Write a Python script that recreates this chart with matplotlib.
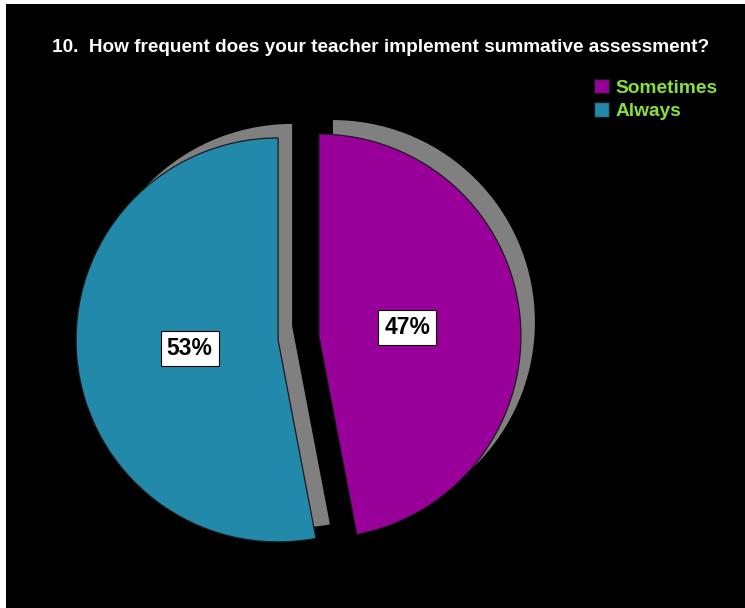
import matplotlib

matplotlib.use("Agg")
import matplotlib.pyplot as plt  # noqa: E402
from matplotlib.patches import Rectangle  # noqa: E402

plt.rcParams["font.family"] = ["Liberation Sans", "DejaVu Sans"]

title = "10.  How frequent does your teacher implement summative assessment?"
labels = ["Sometimes", "Always"]
shares = [47, 53]
colors = ["#990099", "#2389AB"]
shadow_color = "#808080"
legend_text_color = "#88E03A"

W, H = 745, 608
fig = plt.figure(figsize=(W / 100, H / 100), dpi=100)
fig.patch.set_facecolor("white")
# black panel leaves a thin white margin on the left and top
fig.patches.append(Rectangle((6 / W, 0), 1 - 6 / W, 1 - 4 / H,
                             transform=fig.transFigure, facecolor="black",
                             edgecolor="none", zorder=-1))

ax = fig.add_axes([0, 0, 1, 1])
ax.set_facecolor("none")

# axes units are pixels, so explode is a pixel offset here
cx, cy, r = 298.5, H - 338, 202
explode = [20.5, 20.5]
shadow_dx, shadow_dy = 14, 14

# flat grey copy offset up and to the right acts as the 3d shadow
ax.pie(shares, colors=[shadow_color] * 2, startangle=90, counterclock=False,
       explode=explode, radius=r, center=(cx + shadow_dx, cy + shadow_dy),
       wedgeprops=dict(linewidth=0))

wedges, _, autotexts = ax.pie(
    shares, colors=colors, startangle=90, counterclock=False,
    explode=explode, radius=r, center=(cx, cy),
    autopct="%1.0f%%", pctdistance=0.44,
    wedgeprops=dict(linewidth=0.9, edgecolor="#1a1a1a"),
)
for t in autotexts:
    t.set_fontsize(16.5)
    t.set_fontweight("bold")
    t.set_color("black")
    t.set_bbox(dict(boxstyle="square,pad=0.26", facecolor="white",
                    edgecolor="black", linewidth=0.8))

ax.set_xlim(0, W)
ax.set_ylim(0, H)
ax.set_aspect("equal")
ax.axis("off")

ax.text(381, H - 47, title, color="white", fontsize=13.7, fontweight="bold",
        ha="center", va="center")

leg = ax.legend(wedges, labels, loc="upper left",
                bbox_to_anchor=(584 / W, 1 - 69 / H), frameon=False,
                handlelength=0.8, handleheight=0.8, handletextpad=0.35,
                labelspacing=0.28, borderpad=0,
                prop=dict(size=13.8, weight="bold"))
for t in leg.get_texts():
    t.set_color(legend_text_color)

fig.savefig("out.png", dpi=100, facecolor=fig.get_facecolor())
